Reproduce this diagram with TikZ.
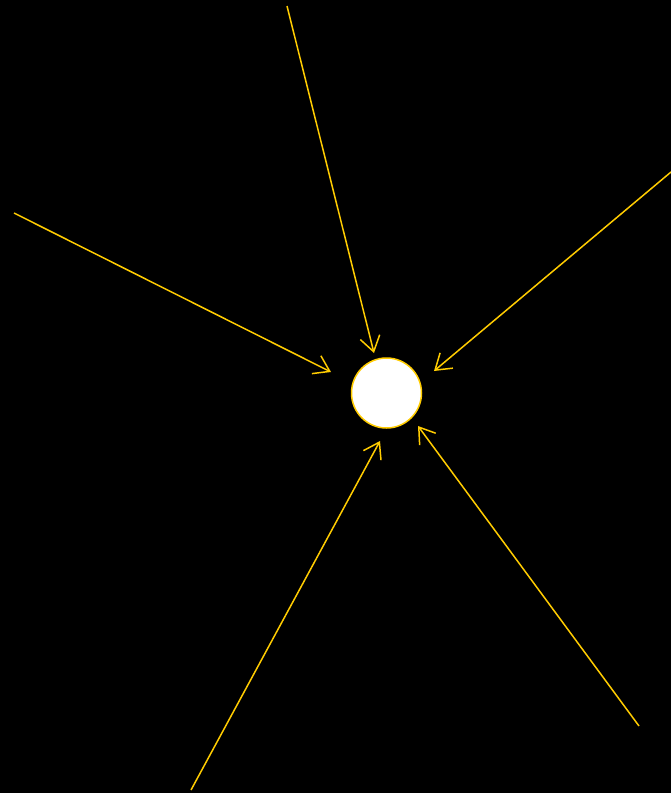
\documentclass[tikz,border=0pt]{standalone}
\usetikzlibrary{arrows.meta}
\definecolor{gold}{HTML}{FFCC00}
\begin{document}
\begin{tikzpicture}[x=1pt,y=-1pt,
  ray/.style={draw=gold,line width=1.5pt,-{Straight Barb[length=15pt,width=20pt,line width=1.5pt]}},
  hub/.style={circle,draw=gold,fill=white,line width=1.5pt,minimum size=70pt,inner sep=0pt}]
\fill[black] (0,0) rectangle (671,793);
\useasboundingbox (0,0) rectangle (671,793);
\node[hub] (c) at (386.5,393) {};
\coordinate (s1) at (287,6);   \coordinate (t1) at (374,353);
\coordinate (s2) at (671,172); \coordinate (t2) at (434,371);
\coordinate (s3) at (14,213);  \coordinate (t3) at (331,372);
\coordinate (s4) at (191,790); \coordinate (t4) at (380,441);
\coordinate (s5) at (639,726); \coordinate (t5) at (418,426);
\draw[ray] (s1) -- (t1);
\draw[ray] (s2) -- (t2);
\draw[ray] (s3) -- (t3);
\draw[ray] (s4) -- (t4);
\draw[ray] (s5) -- (t5);
\end{tikzpicture}
\end{document}
